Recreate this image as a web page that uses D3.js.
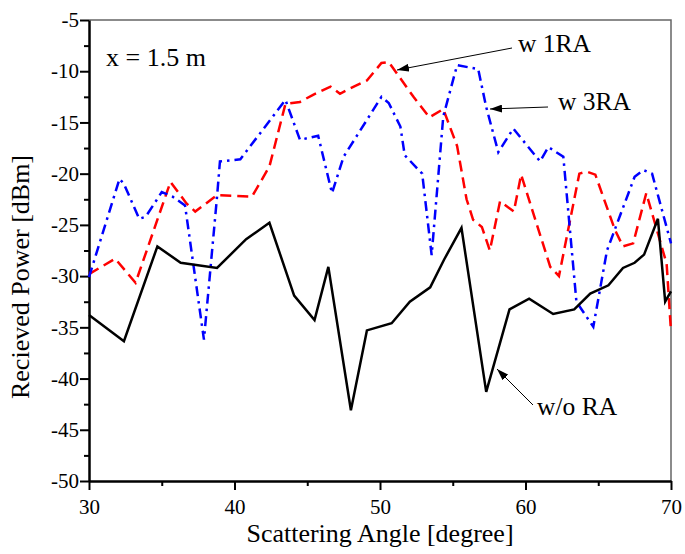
<!DOCTYPE html>
<html>
<head>
<meta charset="utf-8">
<script src="https://cdn.jsdelivr.net/npm/d3@7"></script>
<style>
  body { margin: 0; background: #fff; }
  text { font-family: "Liberation Serif", "Times New Roman", serif; fill: #000; }
</style>
</head>
<body>
<script>
//series values: [angle, power]
var woRA = [[30.0,-33.8],[32.4,-36.35],[34.7,-27.1],[36.3,-28.7],[38.8,-29.2],[40.8,-26.4],[42.4,-24.8],
    [44.1,-31.9],[45.5,-34.3],[46.45,-29.1],[48.0,-43.1],[49.1,-35.3],[50.8,-34.6],[52.05,-32.5],[53.45,-31.1],
    [54.4,-28.4],[55.6,-25.3],[57.3,-41.3],[58.9,-33.25],[60.25,-32.2],[61.9,-33.7],[63.35,-33.25],[64.45,-31.7],
    [65.7,-30.9],[66.7,-29.2],[67.5,-28.7],[68.15,-27.9],[69.1,-24.4],[69.6,-32.5],[70.0,-31.5]];
var w1RA = [[30.0,-29.8],[31.8,-28.3],[33.2,-30.65],[35.6,-20.8],[36.7,-22.9],[37.3,-23.7],[38.8,-22.1],
    [41.2,-22.25],[42.4,-19.3],[43.5,-13.2],[44.5,-13.0],[45.4,-12.3],[46.6,-11.5],[47.25,-12.2],[48.2,-11.5],
    [49.1,-10.9],[50.1,-9.2],[50.6,-9.1],[51.15,-10.2],[52.3,-12.5],[53.4,-14.5],[54.35,-13.7],[55.3,-17.3],
    [55.95,-22.5],[56.4,-24.5],[57.0,-25.2],[57.55,-27.5],[58.25,-22.7],[59.2,-23.7],[59.7,-20.1],[61.7,-29.1],
    [62.3,-30.0],[63.7,-20.0],[64.2,-19.8],[64.8,-20.1],[66.15,-25.5],[66.7,-27.1],[67.4,-26.8],[68.3,-21.9],
    [69.7,-28.8],[70.0,-35.4]];
var w3RA = [[30.0,-30.1],[32.1,-20.5],[32.4,-21.0],[33.45,-24.4],[33.9,-24.2],[35.0,-21.8],[35.75,-22.25],
    [36.6,-23.1],[37.9,-36.2],[38.8,-22.25],[39.0,-18.8],[40.4,-18.6],[43.5,-12.8],[44.5,-16.7],[45.75,-16.3],
    [46.7,-21.9],[47.5,-18.35],[48.5,-16.1],[50.1,-12.5],[50.6,-13.1],[51.4,-15.4],[51.7,-18.2],[52.9,-20.0],
    [53.55,-27.95],[54.35,-14.4],[55.3,-9.4],[56.75,-9.8],[57.3,-13.5],[58.13,-17.9],[59.16,-15.6],[61.0,-18.8],
    [61.57,-17.4],[62.6,-18.35],[63.5,-32.5],[64.66,-34.95],[65.6,-27.5],[67.5,-20.3],[68.1,-19.65],[68.7,-20.0],
    [70.0,-26.8]];

var xTicks = [30, 40, 50, 60, 70];
var xMinor = [35, 45, 55, 65];
var yTicks = [-50, -45, -40, -35, -30, -25, -20, -15, -10, -5];
var yMinor = [-47.5, -42.5, -37.5, -32.5, -27.5, -22.5, -17.5, -12.5, -7.5];

var w = 685, h = 554;
var margin = {top: 20, right: 14, bottom: 73, left: 89};
var serif = "'Liberation Serif', 'Times New Roman', serif";

var svg = d3.select("body").append("svg")
    .attr("width", w)
    .attr("height", h);

var x = d3.scaleLinear().domain([30, 70]).range([margin.left, w - margin.right]);
var y = d3.scaleLinear().domain([-50, -5]).range([h - margin.bottom, margin.top]);

//top and right frame, thin grey
svg.append("path")
    .attr("d", "M" + x(30) + "," + y(-5) + "H" + x(70) + "V" + y(-50))
    .attr("fill", "none")
    .attr("stroke", "#666")
    .attr("stroke-width", 1.5);

//minor ticks
svg.append("g")
    .attr("transform", "translate(0," + y(-50) + ")")
    .call(d3.axisBottom(x).tickValues(xMinor).tickSize(5).tickFormat(""))
    .call(function(g){ g.select(".domain").remove(); g.selectAll("line").attr("stroke-width", 2); });
svg.append("g")
    .attr("transform", "translate(" + x(30) + ",0)")
    .call(d3.axisLeft(y).tickValues(yMinor).tickSize(5).tickFormat(""))
    .call(function(g){ g.select(".domain").remove(); g.selectAll("line").attr("stroke-width", 2); });

//major axes, plain hyphen for minus
var fmt = function(d){ return String(d); };
var xAxis = svg.append("g")
    .attr("transform", "translate(0," + y(-50) + ")")
    .call(d3.axisBottom(x).tickValues(xTicks).tickFormat(fmt).tickSize(9).tickSizeOuter(0).tickPadding(9));
var yAxis = svg.append("g")
    .attr("transform", "translate(" + x(30) + ",0)")
    .call(d3.axisLeft(y).tickValues(yTicks).tickFormat(fmt).tickSize(9).tickSizeOuter(0).tickPadding(1));
[xAxis, yAxis].forEach(function(g){
    g.attr("font-family", serif).attr("font-size", 21);
    g.select(".domain").attr("stroke-width", 2.5);
    g.selectAll("line").attr("stroke-width", 2);
    g.selectAll("text").style("font-family", serif).style("font-size", "21px");
});

//lines
var line = d3.line()
    .x(function(d){ return x(d[0]); })
    .y(function(d){ return y(d[1]); });

svg.append("path").datum(w1RA)
    .attr("d", line).attr("fill", "none")
    .attr("stroke", "#ff0000").attr("stroke-width", 2.5)
    .attr("stroke-dasharray", "11,6");
svg.append("path").datum(w3RA)
    .attr("d", line).attr("fill", "none")
    .attr("stroke", "#0000ff").attr("stroke-width", 2.5)
    .attr("stroke-dasharray", "10,5,2.5,5");
svg.append("path").datum(woRA)
    .attr("d", line).attr("fill", "none")
    .attr("stroke", "#000").attr("stroke-width", 2.5)
    .attr("stroke-linejoin", "miter");

//arrow marker
svg.append("defs").append("marker")
    .attr("id", "arr")
    .attr("viewBox", "0 0 12 8")
    .attr("refX", 12).attr("refY", 4)
    .attr("markerWidth", 12).attr("markerHeight", 8)
    .attr("markerUnits", "userSpaceOnUse")
    .attr("orient", "auto")
    .append("path").attr("d", "M0,0L12,4L0,8Z").attr("fill", "#000");

var notes = [
    {text: "w 1RA", tx: 518, ty: 52, x1: 512, y1: 48, x2: 397, y2: 70},
    {text: "w 3RA", tx: 558, ty: 110, x1: 548, y1: 107, x2: 490, y2: 109},
    {text: "w/o RA", tx: 537, ty: 415, x1: 533, y1: 405, x2: 497, y2: 369}
];
notes.forEach(function(n){
    svg.append("line")
        .attr("x1", n.x1).attr("y1", n.y1).attr("x2", n.x2).attr("y2", n.y2)
        .attr("stroke", "#000").attr("stroke-width", 1)
        .attr("marker-end", "url(#arr)");
    svg.append("text").attr("x", n.tx).attr("y", n.ty)
        .style("font-size", "25.5px").text(n.text);
});

svg.append("text").attr("x", 106).attr("y", 66)
    .style("font-size", "26px").text("x = 1.5 m");

//axis titles
svg.append("text")
    .attr("x", (x(30) + x(70)) / 2).attr("y", 542)
    .attr("text-anchor", "middle")
    .style("font-size", "26px")
    .text("Scattering Angle [degree]");
svg.append("text")
    .attr("transform", "translate(29,277) rotate(-90)")
    .attr("text-anchor", "middle")
    .style("font-size", "26px")
    .text("Recieved Power [dBm]");
</script>
</body>
</html>
